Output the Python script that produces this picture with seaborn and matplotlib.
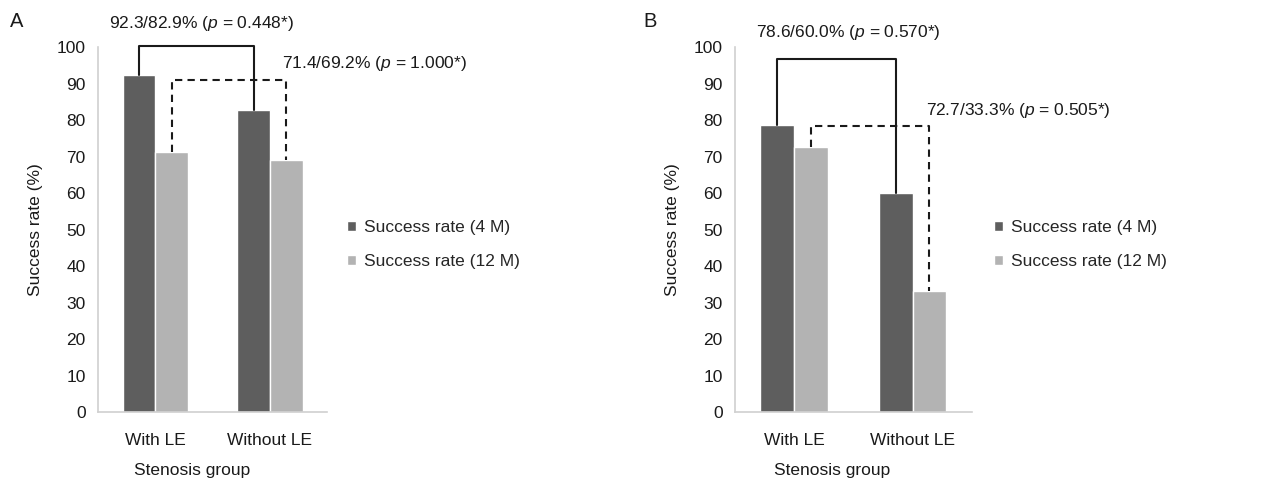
import matplotlib
matplotlib.use("Agg")
import matplotlib.pyplot as plt
import numpy as np
import pandas as pd
import seaborn as sns

# ---- data ----
groups = ["With LE", "Without LE"]
periods = ["Success rate (4 M)", "Success rate (12 M)"]
rates_a_4m = [92.3, 82.9]
rates_a_12m = [71.4, 69.2]
rates_b_4m = [78.6, 60.0]
rates_b_12m = [72.7, 33.3]
yticks = list(range(0, 101, 10))

labels_a = ["92.3/82.9% ($p$ = 0.448*)", "71.4/69.2% ($p$ = 1.000*)"]
labels_b = ["78.6/60.0% ($p$ = 0.570*)", "72.7/33.3% ($p$ = 0.505*)"]

DARK = "#5e5e5e"
LIGHT = "#b3b3b3"
SPINE = "#d0d0d0"
TXT = "#1a1a1a"
FONT = "Liberation Sans"
FS = 12.5


def make_frame(r4, r12):
    rows = []
    for g, v in zip(groups, r4):
        rows.append({"group": g, "period": periods[0], "rate": v})
    for g, v in zip(groups, r12):
        rows.append({"group": g, "period": periods[1], "rate": v})
    return pd.DataFrame(rows)


def bracket(ax, bars, values, top, style):
    """Connects the two bars of one series with a bracket at height top."""
    xs = [b.get_x() + b.get_width() / 2 for b in bars]
    line, = ax.plot([xs[0], xs[0], xs[1], xs[1]], [values[0], top, top, values[1]],
                    color=TXT, lw=1.5, linestyle=style, clip_on=False, zorder=5)
    if style == "--":
        line.set_dashes((3.5, 2.5))


def draw_panel(ax, r4, r12, labels, tops, label_pos, letter, leg_x):
    df = make_frame(r4, r12)
    sns.barplot(data=df, x="group", y="rate", hue="period", order=groups,
                hue_order=periods, palette=[DARK, LIGHT], width=0.57,
                saturation=1, ax=ax, legend=True)
    ax.set_xlim(-0.5, 1.5)
    ax.set_ylim(0, 100)
    ax.set_yticks(yticks)
    for s in ["top", "right"]:
        ax.spines[s].set_visible(False)
    for s in ["left", "bottom"]:
        ax.spines[s].set_color(SPINE)
        ax.spines[s].set_linewidth(1.2)
    ax.tick_params(axis="y", length=4, color=SPINE, labelsize=FS, pad=5, labelcolor=TXT)
    ax.tick_params(axis="x", length=0, labelsize=FS, pad=15, labelcolor=TXT)
    ax.set_ylabel("Success rate (%)", fontsize=FS, color=TXT, labelpad=10)
    ax.set_xlabel("Stenosis group", fontsize=FS, color=TXT)
    ax.xaxis.label.set_va("center")
    ax.xaxis.set_label_coords(0.41, -0.159)

    bracket(ax, ax.containers[0], r4, tops[0], "-")
    bracket(ax, ax.containers[1], r12, tops[1], "--")
    for (lx, ly), txt in zip(label_pos, labels):
        ax.text(lx, ly, txt, fontsize=FS, color=TXT, ha="left", va="center",
                clip_on=False)

    handles, leg_labels = ax.get_legend_handles_labels()
    ax.legend(handles, leg_labels, loc="center left", bbox_to_anchor=(leg_x, 0.46),
              frameon=False, fontsize=FS, handlelength=0.5, handleheight=0.5,
              handletextpad=0.5, labelspacing=1.1, borderpad=0, borderaxespad=0)
    ax.text(-0.385, 1.07, letter, transform=ax.transAxes, fontsize=FS + 2,
            color=TXT, ha="left", va="center")


sns.set_theme(style="white")
plt.rcParams["font.family"] = [FONT, "DejaVu Sans"]
plt.rcParams["mathtext.fontset"] = "custom"
plt.rcParams["mathtext.it"] = FONT + ":italic"
plt.rcParams["mathtext.rm"] = FONT

fig = plt.figure(figsize=(12.73, 4.82), dpi=100)
ax_a = fig.add_axes([0.077, 0.145, 0.180, 0.757])
ax_b = fig.add_axes([0.5774, 0.145, 0.186, 0.757])

draw_panel(ax_a, rates_a_4m, rates_a_12m, labels_a, (100.4, 91.0),
           [(-0.40, 106.6), (1.11, 95.6)], "A", 1.087)
draw_panel(ax_b, rates_b_4m, rates_b_12m, labels_b, (96.7, 78.4),
           [(-0.32, 104.0), (1.11, 82.7)], "B", 1.093)

fig.savefig("out.png", dpi=100, facecolor="white")
